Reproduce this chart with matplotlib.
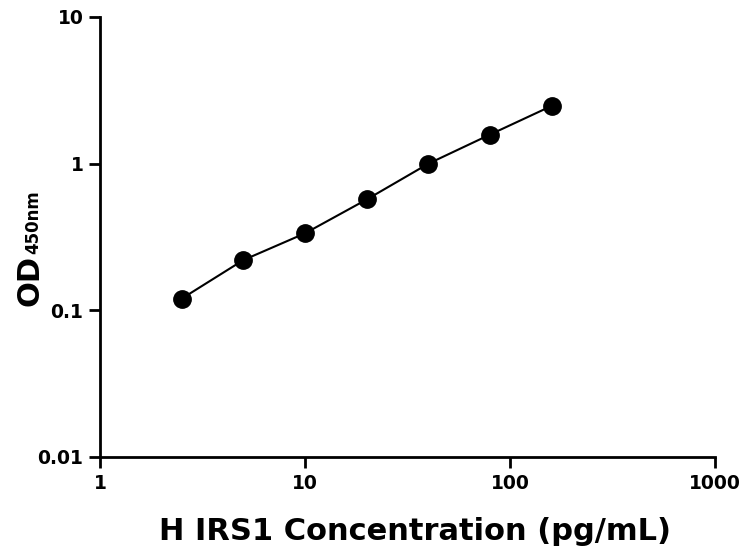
import numpy as np
import matplotlib.pyplot as plt
from matplotlib.ticker import FixedLocator, FixedFormatter, NullLocator

# Datos de la curva estándar
conc_pg_ml = [2.5, 5, 10, 20, 40, 80, 160]
od_450 = [0.12, 0.22, 0.335, 0.57, 1.0, 1.58, 2.48]

x_ticks = [1, 10, 100, 1000]
x_tick_labels = ['1', '10', '100', '1000']
y_ticks = [0.01, 0.1, 1, 10]
y_tick_labels = ['0.01', '0.1', '1', '10']

W, H = 746, 552
fig = plt.figure(figsize=(W / 100, H / 100), dpi=100)
ax = fig.add_axes([100 / W, 1 - 457 / H, 615 / W, 440 / H])

ax.plot(conc_pg_ml, od_450, color='black', linewidth=1.5,
        marker='o', markersize=12.5, markerfacecolor='black', markeredgecolor='black')

ax.set_xscale('log')
ax.set_yscale('log')
ax.set_xlim(1, 1000)
ax.set_ylim(0.01, 10)

ax.xaxis.set_major_locator(FixedLocator(x_ticks))
ax.xaxis.set_major_formatter(FixedFormatter(x_tick_labels))
ax.xaxis.set_minor_locator(NullLocator())
ax.yaxis.set_major_locator(FixedLocator(y_ticks))
ax.yaxis.set_major_formatter(FixedFormatter(y_tick_labels))
ax.yaxis.set_minor_locator(NullLocator())

for s in ['top', 'right']:
    ax.spines[s].set_visible(False)
for s in ['left', 'bottom']:
    ax.spines[s].set_linewidth(2)

ax.tick_params(axis='both', which='major', direction='out', length=8, width=2,
               labelsize=13.5, pad=4)
for lbl in ax.get_xticklabels() + ax.get_yticklabels():
    lbl.set_fontweight('bold')

# Etiqueta X
fig.text(415 / W, 1 - 540 / H, 'H IRS1 Concentration (pg/mL)', ha='center', va='baseline',
         fontsize=22, fontweight='bold')

# Etiqueta Y: "OD" grande + "450nm" pequeño, misma línea base
renderer = fig.canvas.get_renderer()
t1 = fig.text(38 / W, 1 - 306 / H, 'OD', rotation=90, rotation_mode='anchor',
              ha='left', va='baseline', fontsize=22, fontweight='bold')
bb = t1.get_window_extent(renderer)
fig.text(38 / W, (bb.y1 + 1) / fig.bbox.height, '450nm', rotation=90, rotation_mode='anchor',
         ha='left', va='baseline', fontsize=12, fontweight='bold')

fig.savefig('out.png', dpi=100)
